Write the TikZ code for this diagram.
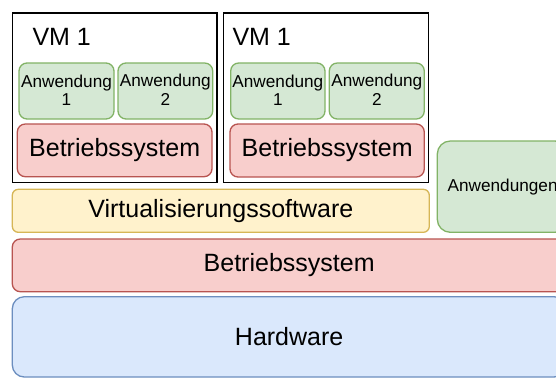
\documentclass[tikz,border=0pt]{standalone}
\usepackage{fontspec}
\setmainfont{Liberation Sans}
\definecolor{gfill}{HTML}{D5E8D4}\definecolor{gline}{HTML}{82B366}
\definecolor{rfill}{HTML}{F8CECC}\definecolor{rline}{HTML}{B85450}
\definecolor{yfill}{HTML}{FFF2CC}\definecolor{yline}{HTML}{D6B656}
\definecolor{bfill}{HTML}{DAE8FC}\definecolor{bline}{HTML}{6C8EBF}
\tikzset{
  box/.style={rectangle, inner sep=0pt, outer sep=0pt, line width=1.3pt, align=center},
  vmbox/.style={box, draw=black, fill=white, line width=1.6pt},
  appbox/.style={box, draw=gline, fill=gfill, rounded corners=8pt, font=\fontsize{17.2}{20}\selectfont},
  osbox/.style={box, draw=rline, fill=rfill, rounded corners=8pt, font=\fontsize{25}{30}\selectfont},
  virtbox/.style={box, draw=yline, fill=yfill, rounded corners=6pt, font=\fontsize{25}{30}\selectfont},
  hwbox/.style={box, draw=bline, fill=bfill, rounded corners=12pt, font=\fontsize{25}{30}\selectfont},
  vmlabel/.style={inner sep=0pt, anchor=base west, font=\fontsize{25}{30}\selectfont}
}
\begin{document}
\begin{tikzpicture}[x=1pt,y=-1pt]
\useasboundingbox (0,0) rectangle (556,378);
\clip (0,0) rectangle (556,378);
\fill[white] (0,0) rectangle (556,378);
% VM boxes
\node[vmbox, minimum width=204.5pt, minimum height=169.5pt] (vm1) at (114.75,97.75) {};
\node[vmbox, minimum width=204.8pt, minimum height=169.5pt] (vm2) at (325.9,97.75) {};
\node[vmlabel] (vm1l) at (32.3,45) {VM 1};
\node[vmlabel] (vm2l) at (232.3,45) {VM 1};
% VM 1 contents
\node[appbox, minimum width=95pt, minimum height=56pt] (a11) at (66.5,91) {\raisebox{2pt}{\shortstack{Anwendung\\1}}};
\node[appbox, minimum width=94.7pt, minimum height=56pt] (a12) at (165.35,91) {\raisebox{2pt}{\shortstack{Anwendung\\2}}};
\node[osbox, minimum width=194.7pt, minimum height=52.7pt] (os1) at (114.65,150.35) {Betriebssystem};
% VM 2 contents
\node[appbox, minimum width=94.3pt, minimum height=56pt] (a21) at (277.85,91) {\raisebox{2pt}{\shortstack{Anwendung\\1}}};
\node[appbox, minimum width=95pt, minimum height=56pt] (a22) at (376.8,91) {\raisebox{2pt}{\shortstack{Anwendung\\2}}};
\node[osbox, minimum width=194.3pt, minimum height=53pt] (os2) at (327.15,150.5) {Betriebssystem};
% host applications
\node[appbox, rounded corners=13pt, minimum width=130.7pt, minimum height=91.3pt] (anw) at (502.65,186.65) {Anwendungen};
% layers
\node[virtbox, minimum width=417pt, minimum height=43pt] (virt) at (220.8,210.8) {Virtualisierungssoftware};
\node[osbox, minimum width=553.7pt, minimum height=52.7pt] (os) at (289.15,265.35) {Betriebssystem};
\node[hwbox, minimum width=553.7pt, minimum height=80.3pt] (hw) at (289.15,336.85) {Hardware};
\end{tikzpicture}
\end{document}
